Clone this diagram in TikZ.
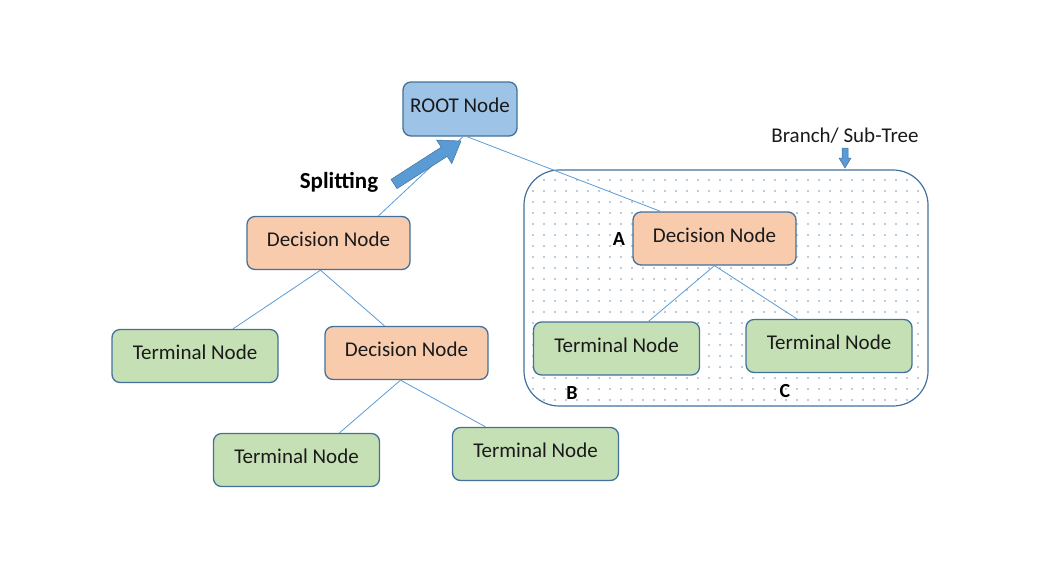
\documentclass[tikz,border=0pt]{standalone}
\usepackage{fontspec}
\setmainfont{Carlito}
\definecolor{boxedge}{HTML}{41719C}
\definecolor{rootfill}{HTML}{9DC3E6}
\definecolor{decfill}{HTML}{F8CBAD}
\definecolor{termfill}{HTML}{C5E0B4}
\definecolor{linkblue}{HTML}{5B9BD5}
\definecolor{dotcol}{HTML}{7A97BA}
\definecolor{inktext}{HTML}{1A1A1A}
\begin{document}
\begin{tikzpicture}[x=1pt,y=-1pt,
  box/.style={draw=boxedge, line width=1.3pt, rounded corners=8pt,
    minimum height=53pt, inner sep=0pt, text=inktext,
    text height=14pt, text depth=6.5pt,
    font=\fontsize{21}{24}\selectfont},
  rootbox/.style={box, fill=rootfill, minimum width=114pt, minimum height=54pt},
  decbox/.style={box, fill=decfill, minimum width=163pt},
  termbox/.style={box, fill=termfill, minimum width=166pt},
  link/.style={draw=linkblue, line width=0.8pt},
  tag/.style={inner sep=0pt, text=black, font=\bfseries\fontsize{20}{24}\selectfont},
  note/.style={inner sep=0pt, text=inktext, font=\fontsize{21}{24}\selectfont},
  blockarrow/.style={fill=linkblue, draw=boxedge, line width=0.5pt}
]
% canvas
\useasboundingbox (0,0) rectangle (1059,574);

% sub-tree region: dotted fill inside a rounded frame
\begin{scope}
  \clip[rounded corners=35pt] (524,170) rectangle (928,406);
  \foreach \i in {0,...,36}
    \foreach \j in {0,...,21}
      \fill[dotcol] (533+11*\i,180+11*\j) circle (0.85pt);
\end{scope}
\draw[boxedge, line width=1.2pt, rounded corners=35pt] (524,170) rectangle (928,406);

% tree nodes
\node[rootbox] (root) at (460,109) {ROOT Node};
\node[decbox]  (dec1) at (328.5,243) {Decision Node};
\node[termbox] (t1)   at (195,356) {Terminal Node};
\node[decbox]  (dec2) at (406.5,353) {Decision Node};
\node[termbox] (t2)   at (296.5,460) {Terminal Node};
\node[termbox] (t3)   at (535.5,454) {Terminal Node};
\node[decbox]  (decA) at (714.5,238.5) {Decision Node};
\node[termbox] (tB)   at (616.5,348.5) {Terminal Node};
\node[termbox] (tC)   at (829,346) {Terminal Node};

% connectors
\draw[link] ([xshift=3pt]root.south) -- ([xshift=50pt]dec1.north);
\draw[link] ([xshift=7pt]root.south) -- ([xshift=-54pt]decA.north);
\draw[link] ([xshift=-8pt]dec1.south) -- ([xshift=38pt]t1.north);
\draw[link] ([xshift=-8pt]dec1.south) -- ([xshift=-22pt]dec2.north);
\draw[link] ([xshift=-6pt]dec2.south) -- ([xshift=43pt]t2.north);
\draw[link] ([xshift=-6pt]dec2.south) -- ([xshift=-50pt]t3.north);
\draw[link] (decA.south) -- ([xshift=32pt]tB.north);
\draw[link] (decA.south) -- ([xshift=-32pt]tC.north);

% labels
\node[tag, font=\bfseries\fontsize{23}{26}\selectfont] (split) at (339,182) {Splitting};
\node[tag]  (lA) at (619,239) {A};
\node[tag]  (lB) at (572,393) {B};
\node[tag]  (lC) at (785,391) {C};
\node[note] (branch) at (845,136) {Branch/ Sub-Tree};

% splitting arrow
\draw[blockarrow] (391.0,179.4) -- (441.2,147.2) -- (436.6,140.0) -- (461,141)
  -- (451.8,163.6) -- (447.2,156.4) -- (397.0,188.6) -- cycle;

% branch marker arrow
\draw[blockarrow] (842,148) -- (848,148) -- (848,158) -- (851,158) -- (845,168)
  -- (839,158) -- (842,158) -- cycle;
\end{tikzpicture}
\end{document}
